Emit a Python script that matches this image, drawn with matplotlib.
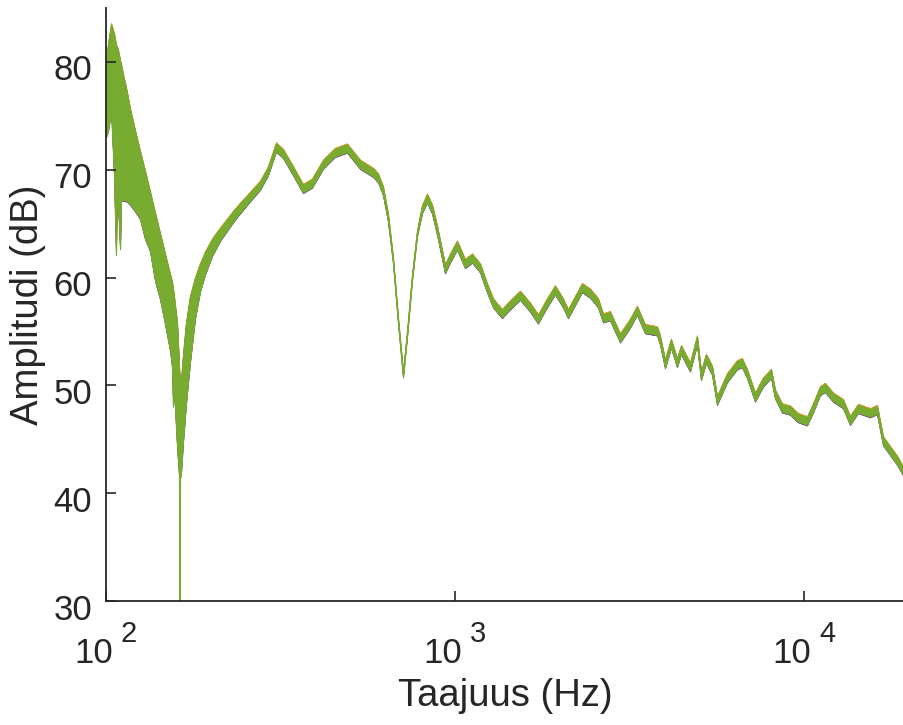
import numpy as np
import matplotlib
matplotlib.use("Agg")
import matplotlib.pyplot as plt
from matplotlib.ticker import FixedLocator, NullLocator, NullFormatter
from matplotlib.transforms import ScaledTranslation

plt.rcParams['font.family'] = ['Liberation Sans', 'DejaVu Sans']

# Frequency grid of the measured response (Hz)
freq_hz = [
    100.0, 101.3, 103.4, 105.4, 106.8, 107.5, 108.2, 109.7, 110.4, 111.9,
    114.9, 117.2, 121.1, 125.1, 129.3, 133.7, 138.2, 142.8, 147.6, 152.6,
    154.6, 155.6, 156.6, 159.8, 161.9, 162.4, 162.9, 164.0, 166.2, 169.5,
    174.1, 179.9, 185.9, 192.2, 201.3, 212.1, 234.3, 258.6, 276.3, 291.2,
    307.0, 321.5, 343.5, 366.8, 389.3, 418.5, 453.1, 490.5, 534.3, 582.1,
    601.6, 621.8, 642.7, 664.2, 686.5, 709.6, 728.6, 753.0, 778.3, 804.4,
    831.4, 859.3, 888.1, 936.2, 967.6, 1013, 1068, 1119, 1179, 1235,
    1285, 1363, 1437, 1536, 1640, 1729, 1835, 1934, 2039, 2108,
    2207, 2311, 2437, 2569, 2655, 2780, 2971, 3173, 3322, 3502,
    3791, 3867, 3997, 4158, 4326, 4442, 4714, 4936, 5068, 5238,
    5450, 5633, 6017, 6427, 6642, 6865, 7237, 7630, 8044, 8259,
    8649, 9117, 9612, 10200, 10612, 11114, 11487, 12110, 12935, 13546,
    14280, 15459, 16189, 16843, 17639, 18473, 19346,
]

# Mean level across the repeated measurements (dB)
level_db = [
    76.3, 77.6, 79.5, 76.1, 71.85, 74.5, 74.1, 71.4, 73.45, 73.0,
    72.1, 71.2, 69.9, 68.6, 66.75, 65.2, 62.85, 61.05, 58.95, 56.75,
    55.65, 53.5, 54.0, 50.05, 46.75, 40.4, 46.1, 46.1, 48.8, 52.05,
    55.25, 58.1, 60.0, 61.35, 62.8, 64.0, 65.9, 67.5, 68.55, 69.9,
    72.1, 71.5, 69.9, 68.25, 68.75, 70.5, 71.6, 72.0, 70.5, 69.75,
    69.25, 68.05, 65.55, 61.6, 56.05, 51.0, 54.75, 60.0, 64.1, 66.35,
    67.35, 66.35, 64.4, 60.8, 61.8, 63.0, 61.3, 61.8, 60.9, 59.05,
    57.65, 56.65, 57.45, 58.35, 57.25, 56.15, 57.65, 58.85, 57.65, 56.65,
    57.85, 59.05, 58.55, 57.65, 56.25, 56.45, 54.4, 55.75, 56.95, 55.25,
    55.05, 54.2, 52.0, 53.9, 52.1, 53.3, 51.7, 54.2, 50.9, 52.5,
    51.4, 48.6, 50.7, 51.9, 52.1, 51.1, 48.9, 50.3, 51.1, 49.2,
    47.9, 47.7, 47.0, 46.7, 47.9, 49.5, 49.8, 48.9, 48.3, 46.75,
    47.85, 47.45, 47.75, 44.85, 43.95, 43.05, 41.9,
]

# Half-width of the spread between measurements (dB)
spread_db = [
    3.2, 4.0, 4.0, 6.5, 9.7, 6.85, 7.0, 8.7, 6.3, 5.8,
    5.0, 4.4, 3.7, 3.1, 3.1, 2.7, 3.1, 3.0, 3.2, 3.5,
    3.9, 5.4, 4.2, 5.7, 5.05, 10.4, 4.7, 4.2, 4.0, 3.7,
    3.0, 1.85, 1.25, 1.0, 0.75, 0.55, 0.45, 0.38, 0.35, 0.35,
    0.35, 0.35, 0.35, 0.35, 0.35, 0.35, 0.35, 0.35, 0.35, 0.35,
    0.35, 0.35, 0.3, 0.2, 0.2, 0.2, 0.2, 0.2, 0.2, 0.3,
    0.35, 0.35, 0.35, 0.35, 0.35, 0.35, 0.35, 0.35, 0.35, 0.35,
    0.35, 0.35, 0.35, 0.35, 0.35, 0.35, 0.35, 0.35, 0.35, 0.35,
    0.35, 0.35, 0.35, 0.35, 0.35, 0.35, 0.35, 0.35, 0.35, 0.35,
    0.35, 0.35, 0.35, 0.35, 0.35, 0.35, 0.35, 0.35, 0.35, 0.35,
    0.35, 0.35, 0.35, 0.35, 0.35, 0.35, 0.35, 0.35, 0.35, 0.35,
    0.35, 0.35, 0.35, 0.35, 0.35, 0.35, 0.35, 0.35, 0.35, 0.35,
    0.35, 0.35, 0.35, 0.35, 0.35, 0.35, 0.35,
]

# Small level offsets of the individual measurements relative to the mean (dB)
series_offset_db = [-0.06, 0.1, 0.08, -0.08, 0.0]
series_colors = ['#0072BD', '#D95319', '#EDB120', '#7E2F8E', '#77AC30']

x_ticks = [100, 1000, 10000]
x_tick_exponents = ['2', '3', '4']
y_ticks = [30, 40, 50, 60, 70, 80]

f = np.array(freq_hz)
lvl = np.array(level_db)
spr = np.array(spread_db)

fig = plt.figure(figsize=(9.04, 7.25), dpi=100)
ax = fig.add_axes([106 / 904, 124 / 725, 798 / 904, 593 / 725])

for off, col in zip(series_offset_db, series_colors):
    ax.fill_between(f, lvl - spr + off, lvl + spr + off,
                    facecolor=col, edgecolor=col,
                    linewidth=0.9 if col == series_colors[-1] else 0.5)

ax.set_xscale('log')
ax.set_xlim(100, 19346)
ax.set_ylim(30, 85)

ax.xaxis.set_major_locator(FixedLocator(x_ticks))
ax.xaxis.set_major_formatter(NullFormatter())
ax.xaxis.set_minor_locator(NullLocator())
ax.set_yticks(y_ticks)

dark = '#262626'
for side in ('top', 'right'):
    ax.spines[side].set_visible(False)
for side in ('left', 'bottom'):
    ax.spines[side].set_color(dark)
    ax.spines[side].set_linewidth(1.3)

ax.tick_params(axis='both', direction='in', length=7, width=1.2,
               colors=dark, labelsize=25)
ax.tick_params(axis='y', pad=10)
shift = ScaledTranslation(0, -4 / 72, fig.dpi_scale_trans)
for lab in ax.get_yticklabels():
    lab.set_transform(lab.get_transform() + shift)

# Power-of-ten tick labels with a raised exponent
xform = ax.get_xaxis_transform()
for tick, expo in zip(x_ticks, x_tick_exponents):
    ax.annotate('10', xy=(tick, 0), xycoords=xform,
                xytext=(7, -62), textcoords='offset pixels',
                ha='right', va='baseline', fontsize=25, color=dark,
                annotation_clip=False)
    ax.annotate(expo, xy=(tick, 0), xycoords=xform,
                xytext=(15, -41), textcoords='offset pixels',
                ha='left', va='baseline', fontsize=21, color=dark,
                annotation_clip=False)

ax.set_xlabel('Taajuus (Hz)', fontsize=27.5, color=dark)
ax.xaxis.set_label_coords(0.5, -77 / 593)
ax.set_ylabel('Amplitudi (dB)', fontsize=27.5, color=dark, labelpad=5)

fig.savefig('out.png', dpi=100)
